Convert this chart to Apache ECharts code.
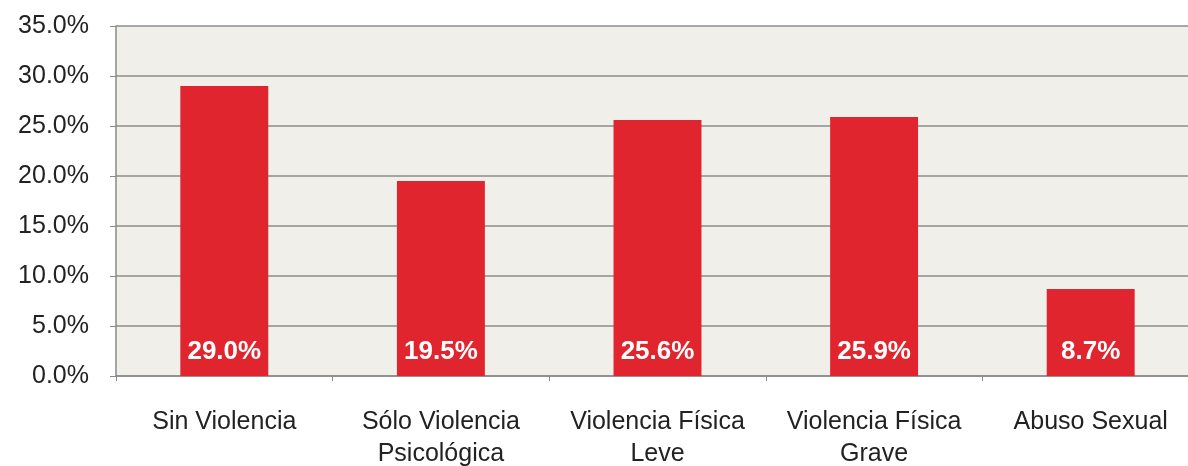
<!DOCTYPE html>
<html>
<head>
<meta charset="utf-8">
<script src="https://cdn.jsdelivr.net/npm/echarts@6/dist/echarts.min.js"></script>
<style>
html, body { margin: 0; padding: 0; background: #fff; }
#chart { width: 1188px; height: 466px; }
</style>
</head>
<body>
<div id="chart"></div>
<script>
// categorías y porcentajes
var categorias = ['Sin Violencia', 'Sólo Violencia\nPsicológica', 'Violencia Física\nLeve', 'Violencia Física\nGrave', 'Abuso Sexual'];
var porcentajes = [29.0, 19.5, 25.6, 25.9, 8.7];
var ticksY = [0, 5, 10, 15, 20, 25, 30, 35];

var myChart = echarts.init(document.getElementById('chart'));

var option = {
    animation: false,
    backgroundColor: '#ffffff',
    grid: {
        left: 116,
        width: 1083,
        top: 26,
        height: 350,
        outerBoundsMode: 'none',
        show: true,
        backgroundColor: '#f0efe9',
        borderWidth: 0
    },
    xAxis: {
        type: 'category',
        data: categorias,
        axisLine: { lineStyle: { color: '#8a8a8a', width: 1.5 } },
        axisTick: { show: true, length: 5, lineStyle: { color: '#8a8a8a' } },
        axisLabel: {
            color: '#222',
            fontFamily: 'Liberation Sans, Arial',
            fontSize: 25,
            lineHeight: 32,
            margin: 30,
            interval: 0
        }
    },
    yAxis: {
        type: 'value',
        min: ticksY[0],
        max: ticksY[ticksY.length - 1],
        interval: 5,
        axisLine: { show: true, lineStyle: { color: '#8a8a8a', width: 1.5 } },
        axisTick: { show: true, length: 6, lineStyle: { color: '#8a8a8a' } },
        splitLine: { lineStyle: { color: '#8c8c8c', width: 1.5 } },
        axisLabel: {
            color: '#222',
            fontFamily: 'Liberation Sans, Arial',
            fontSize: 25,
            margin: 27,
            formatter: function (v) { return v.toFixed(1) + '%'; }
        }
    },
    series: [{
        type: 'bar',
        data: porcentajes,
        barWidth: '40.6%',
        itemStyle: { color: '#e0252e' },
        label: {
            show: true,
            position: 'insideBottom',
            distance: 11,
            color: '#ffffff',
            fontFamily: 'Liberation Sans, Arial',
            fontWeight: 'bold',
            fontSize: 26,
            formatter: function (p) { return p.value.toFixed(1) + '%'; }
        }
    }]
};

myChart.setOption(option);
</script>
</body>
</html>
